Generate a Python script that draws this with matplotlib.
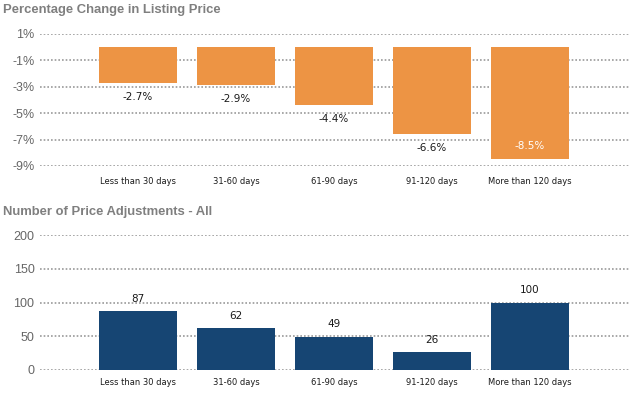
import matplotlib
matplotlib.use('Agg')
import matplotlib.pyplot as plt

categories = ["Less than 30 days", "31-60 days", "61-90 days", "91-120 days", "More than 120 days"]
pct_change = [-2.7, -2.9, -4.4, -6.6, -8.5]
adjustments = [87, 62, 49, 26, 100]

pct_ticks = [1, -1, -3, -5, -7, -9]
adj_ticks = [0, 50, 100, 150, 200]

ORANGE = "#ED9444"
NAVY = "#164573"
GRID = "#9a9a9a"
TICK = "#666666"
TITLE = "#7f7f7f"

fig = plt.figure(figsize=(6.33, 4.0), dpi=100)
fig.patch.set_facecolor("white")

x = list(range(len(categories)))


def style(ax):
    for sp in ax.spines.values():
        sp.set_visible(False)
    ax.tick_params(length=0, pad=4)
    ax.set_xlim(-1.0, 5.02)
    ax.set_xticks(x)
    ax.set_xticklabels(categories, fontsize=6, color="#1a1a1a")
    for t in ax.get_yticklabels():
        t.set_fontsize(9)
        t.set_color(TICK)
        t.set_family("Liberation Sans")
    ax.set_axisbelow(True)


# ─── top: percentage change ───
ax1 = fig.add_axes([40/633, 1-166/400, 590/633, 132/400])
ax1.bar(x, pct_change, width=0.8, color=ORANGE, zorder=2)
for yv in pct_ticks:
    ax1.axhline(yv, color=GRID, linewidth=1.2, linestyle=(0, (1, 1.2)), zorder=1)
ax1.set_ylim(-9, 1)
ax1.set_yticks(pct_ticks)
ax1.set_yticklabels([f"{v}%" for v in pct_ticks])
style(ax1)
ax1.tick_params(axis="x", pad=8)
for xi, v in zip(x, pct_change):
    if v < -8:
        ax1.annotate(f"{v}%", (xi, v), xytext=(0, 10), textcoords="offset points",
                     ha="center", va="center", fontsize=7.5, color="white")
    else:
        ax1.annotate(f"{v}%", (xi, v), xytext=(0, -10), textcoords="offset points",
                     ha="center", va="center", fontsize=7.5, color="#1a1a1a")
fig.text(3/633, 1-10/400, "Percentage Change in Listing Price", fontsize=9.4,
         fontweight="bold", color=TITLE, family="Liberation Sans", va="center")

# ─── bottom: number of adjustments ───
ax2 = fig.add_axes([40/633, 1-370/400, 590/633, 135/400])
ax2.bar(x, adjustments, width=0.8, color=NAVY, zorder=2)
for yv in adj_ticks:
    ax2.axhline(yv, color=GRID, linewidth=1.2, linestyle=(0, (1, 1.2)), zorder=1)
ax2.set_ylim(0, 200)
ax2.set_yticks(adj_ticks)
ax2.set_yticklabels([str(v) for v in adj_ticks])
style(ax2)
ax2.tick_params(axis="x", pad=6)
for xi, v in zip(x, adjustments):
    ax2.annotate(str(v), (xi, v), xytext=(0, 9), textcoords="offset points",
                 ha="center", va="center", fontsize=7.5, color="#1a1a1a")
fig.text(3/633, 1-212/400, "Number of Price Adjustments - All", fontsize=9.4,
         fontweight="bold", color=TITLE, family="Liberation Sans", va="center")

plt.savefig("out.png", dpi=100, facecolor=fig.get_facecolor())
